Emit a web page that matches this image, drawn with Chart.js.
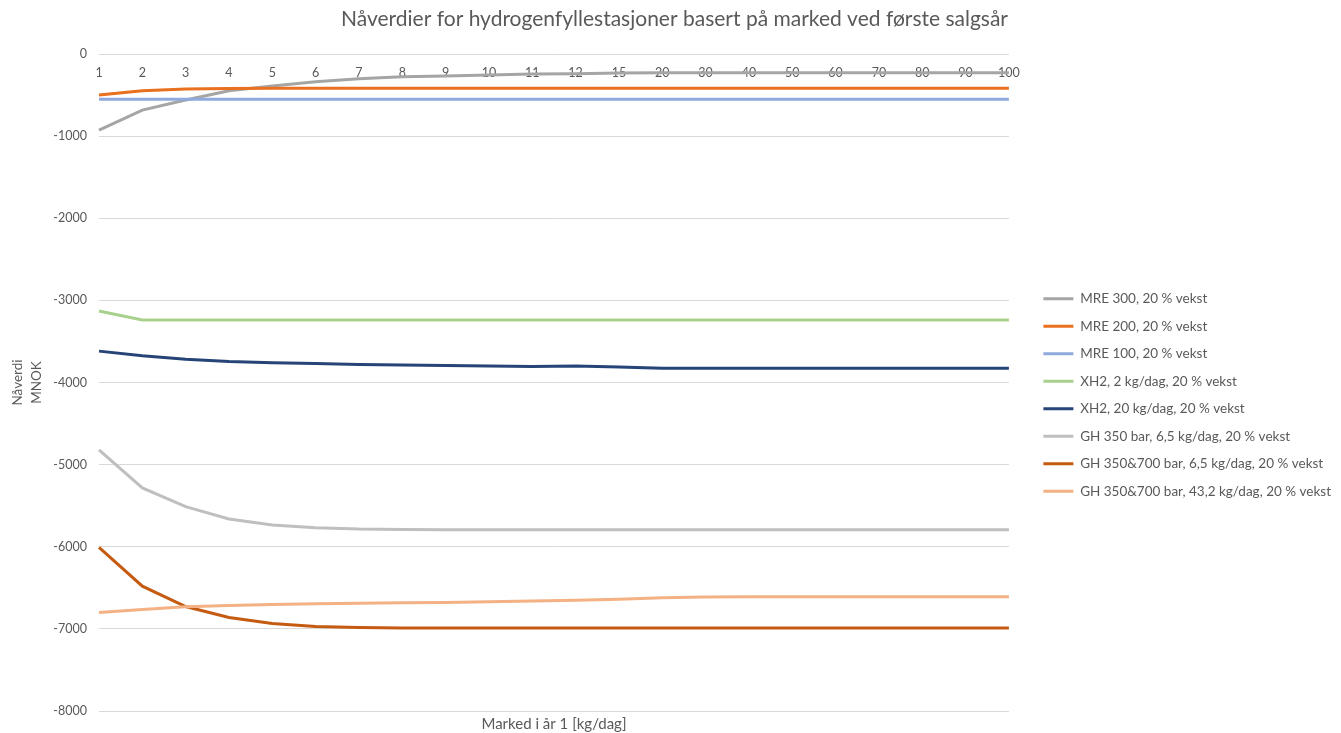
<!DOCTYPE html>
<html>
<head>
<meta charset="utf-8">
<script src="https://cdn.jsdelivr.net/npm/chart.js@4"></script>
<style>
  html, body { margin: 0; padding: 0; background: #fff; }
  #wrap { width: 1341px; height: 733px; }
</style>
</head>
<body>
<div id="wrap"><canvas id="myLineChart"></canvas></div>
<script>
// market in year 1 [kg/dag]
var categories = ['1','2','3','4','5','6','7','8','9','10','11','12','15','20','30','40','50','60','70','80','90','100'];

var seriesNames = [
    'MRE 300, 20 % vekst',
    'MRE 200, 20 % vekst',
    'MRE 100, 20 % vekst',
    'XH2, 2 kg/dag, 20 % vekst',
    'XH2, 20 kg/dag, 20 % vekst',
    'GH 350 bar, 6,5 kg/dag, 20 % vekst',
    'GH 350&700 bar, 6,5 kg/dag, 20 % vekst',
    'GH 350&700 bar, 43,2 kg/dag, 20 % vekst'
];

var mre300 = [-927,-683,-561,-448,-390,-338,-301,-277,-268,-255,-245,-240,-232,-229,-228,-228,-228,-228,-228,-228,-228,-228];
var mre200 = [-500,-448,-427,-420,-418,-418,-418,-418,-418,-418,-418,-418,-418,-418,-418,-418,-418,-418,-418,-418,-418,-418];
var mre100 = [-552,-552,-552,-552,-552,-552,-552,-552,-552,-552,-552,-552,-552,-552,-552,-552,-552,-552,-552,-552,-552,-552];
var xh2Small = [-3130,-3240,-3240,-3240,-3240,-3240,-3240,-3240,-3240,-3240,-3240,-3240,-3240,-3240,-3240,-3240,-3240,-3240,-3240,-3240,-3240,-3240];
var xh2Large = [-3618,-3675,-3716,-3744,-3760,-3770,-3780,-3787,-3793,-3800,-3805,-3800,-3812,-3825,-3828,-3828,-3828,-3828,-3828,-3828,-3828,-3828];
var gh350 = [-4821,-5284,-5512,-5662,-5735,-5768,-5785,-5790,-5792,-5793,-5793,-5793,-5793,-5793,-5793,-5793,-5793,-5793,-5793,-5793,-5793,-5793];
var gh350700Small = [-6008,-6480,-6728,-6862,-6935,-6972,-6984,-6988,-6988,-6988,-6988,-6988,-6988,-6988,-6988,-6988,-6988,-6988,-6988,-6988,-6988,-6988];
var gh350700Large = [-6801,-6764,-6732,-6716,-6704,-6695,-6687,-6683,-6679,-6670,-6660,-6650,-6638,-6622,-6613,-6610,-6610,-6610,-6610,-6610,-6610,-6610];

var yTicks = [0,-1000,-2000,-3000,-4000,-5000,-6000,-7000,-8000];

var allSeries = [mre300, mre200, mre100, xh2Small, xh2Large, gh350, gh350700Small, gh350700Large];
var colors = ['#A5A5A5','#E8701F','#8FAADC','#A9D18E','#264478','#BFBFBF','#C55A11','#F4B183'];

var textColor = '#595959';
var fontFamily = 'Lato, "Open Sans", sans-serif';

var datasets = allSeries.map(function (values, i) {
    return {
        label: seriesNames[i],
        data: values,
        xAxisID: 'x',
        yAxisID: 'y',
        borderColor: colors[i],
        backgroundColor: colors[i],
        borderWidth: 3,
        pointRadius: 0,
        pointHoverRadius: 0,
        tension: 0,
        fill: false,
        // later series drawn on top, like the original
        order: allSeries.length - i
    };
});

var ctx = document.getElementById('myLineChart').getContext('2d');
var myLineChart = new Chart(ctx, {
    type: 'line',
    data: {
        labels: categories,
        datasets: datasets
    },
    options: {
        responsive: true,
        maintainAspectRatio: false,
        animation: false,
        layout: {
            padding: { top: 5, right: 0, bottom: 0, left: 8 }
        },
        plugins: {
            title: {
                display: true,
                text: 'Nåverdier for hydrogenfyllestasjoner basert på marked ved første salgsår',
                color: textColor,
                font: { family: fontFamily, size: 21, weight: 'normal' },
                padding: { top: 2, bottom: 21.8 }
            },
            legend: {
                position: 'right',
                title: { display: true, text: '', padding: 18.8 },
                labels: {
                    color: textColor,
                    font: { family: fontFamily, size: 13.5 },
                    usePointStyle: true,
                    pointStyle: 'line',
                    pointStyleWidth: 30,
                    padding: 14,
                    sort: function (a, b) { return a.datasetIndex - b.datasetIndex; }
                }
            },
            tooltip: { enabled: false }
        },
        scales: {
            x: {
                type: 'category',
                position: { y: 0 },
                offset: false,
                grid: { display: false },
                border: { display: false },
                ticks: {
                    color: textColor,
                    font: { family: fontFamily, size: 12.5 },
                    autoSkip: false,
                    maxRotation: 0,
                    padding: 3.5
                }
            },
            xTitle: {
                type: 'category',
                position: 'bottom',
                labels: categories,
                offset: false,
                grid: { display: false },
                border: { display: false },
                ticks: { display: false },
                title: {
                    display: true,
                    text: 'Marked i år 1 [kg/dag]',
                    color: textColor,
                    font: { family: fontFamily, size: 15 },
                    padding: { top: 1, bottom: 0 }
                },
                afterFit: function (scale) {
                    scale.height = 22;
                }
            },
            // empty space between plot area and legend
            gap: {
                type: 'linear',
                position: 'right',
                display: false,
                afterFit: function (scale) {
                    scale.width = 20.5;
                }
            },
            y: {
                min: -8000,
                max: 0,
                afterBuildTicks: function (scale) {
                    scale.ticks = yTicks.map(function (v) { return { value: v }; });
                },
                afterFit: function (scale) {
                    scale.width = 91;
                },
                grid: { color: '#D9D9D9', lineWidth: 1, drawTicks: false },
                border: { display: false },
                ticks: {
                    color: textColor,
                    font: { family: fontFamily, size: 12.5 },
                    padding: 12,
                    callback: function (value) { return String(value); }
                },
                title: {
                    display: true,
                    text: ['Nåverdi', 'MNOK'],
                    color: textColor,
                    font: { family: fontFamily, size: 13.5, lineHeight: 1.4 },
                    padding: { top: 0, bottom: 0 }
                }
            }
        }
    }
});
</script>
</body>
</html>
